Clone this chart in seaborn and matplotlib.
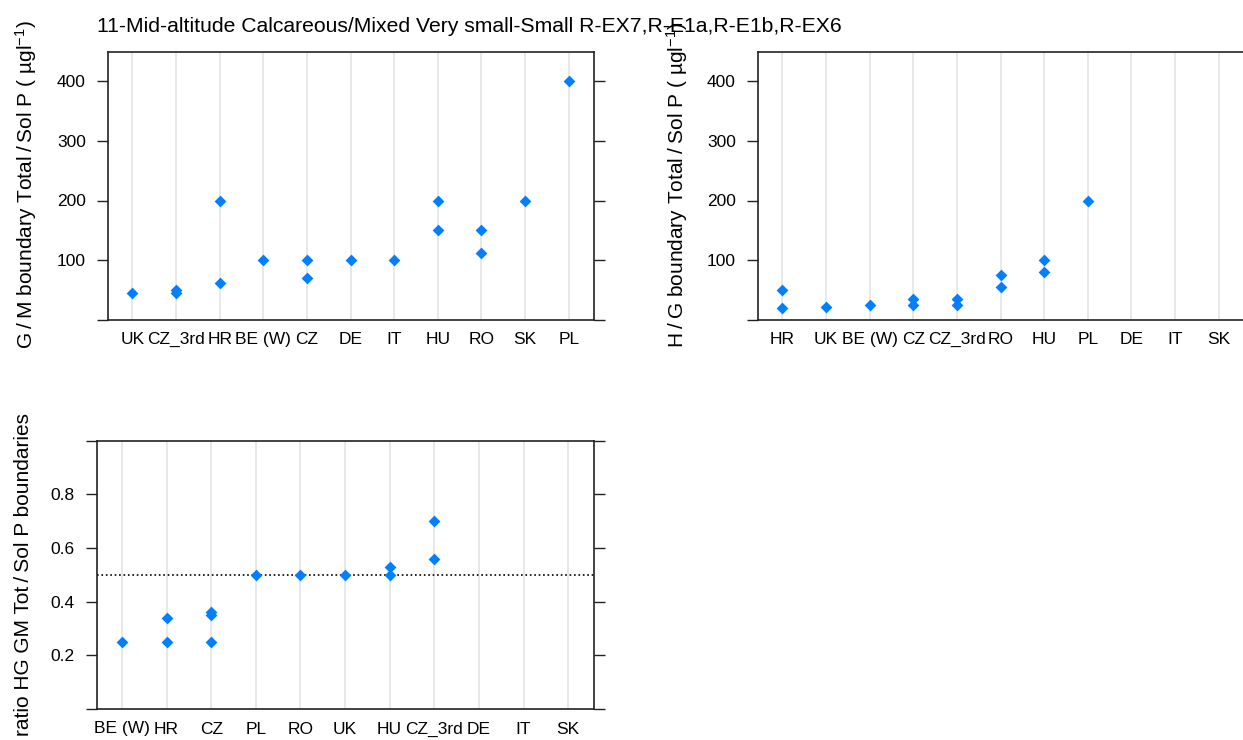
import numpy as np
import pandas as pd
import matplotlib
matplotlib.use('Agg')
import matplotlib.pyplot as plt
import seaborn as sns

# G/M boundary (total / soluble P)
gm_cat = ['UK', 'CZ_3rd', 'CZ_3rd', 'HR', 'HR', 'BE (W)', 'CZ', 'CZ', 'DE', 'IT',
          'HU', 'HU', 'RO', 'RO', 'SK', 'PL']
gm_val = [45, 50, 45, 62, 200, 100, 100, 70, 100, 100, 200, 150, 150, 112, 200, 400]
gm_order = ['UK', 'CZ_3rd', 'HR', 'BE (W)', 'CZ', 'DE', 'IT', 'HU', 'RO', 'SK', 'PL']

# H/G boundary
hg_cat = ['HR', 'HR', 'UK', 'BE (W)', 'CZ', 'CZ', 'CZ_3rd', 'CZ_3rd', 'RO', 'RO',
          'HU', 'HU', 'PL']
hg_val = [50, 20, 22, 25, 35, 25, 35, 25, 75, 55, 100, 80, 200]
hg_order = ['HR', 'UK', 'BE (W)', 'CZ', 'CZ_3rd', 'RO', 'HU', 'PL', 'DE', 'IT', 'SK']

# ratio HG / GM
ratio_cat = ['BE (W)', 'HR', 'HR', 'CZ', 'CZ', 'CZ', 'PL', 'RO', 'UK', 'HU', 'HU',
             'CZ_3rd', 'CZ_3rd']
ratio_val = [0.25, 0.34, 0.25, 0.36, 0.35, 0.25, 0.5, 0.5, 0.5, 0.53, 0.5, 0.70, 0.56]
ratio_order = ['BE (W)', 'HR', 'CZ', 'PL', 'RO', 'UK', 'HU', 'CZ_3rd', 'DE', 'IT', 'SK']

title = '11-Mid-altitude Calcareous/Mixed Very small-Small R-EX7,R-E1a,R-E1b,R-EX6'

sns.set_style('white')
plt.rcParams['font.family'] = ['Liberation Sans', 'DejaVu Sans']
plt.rcParams['mathtext.fontset'] = 'custom'
plt.rcParams['mathtext.rm'] = 'Liberation Sans'
plt.rcParams['mathtext.default'] = 'regular'
plt.rcParams['text.color'] = 'black'
plt.rcParams['xtick.labelcolor'] = 'black'
plt.rcParams['ytick.labelcolor'] = 'black'

W, H = 1243, 740
fig = plt.figure(figsize=(W / 100, H / 100), dpi=100)


def px_axes(left, top, right, bottom):
    return fig.add_axes([left / W, 1 - bottom / H, (right - left) / W, (bottom - top) / H])


def panel(ax, cats, vals, order, ylim, ticks, labels):
    df = pd.DataFrame({'cat': cats, 'val': vals})
    sns.stripplot(data=df, x='cat', y='val', order=order, jitter=False, marker='D',
                  size=6, color='#0080FF', linewidth=0, ax=ax, zorder=3)
    ax.set_axisbelow(True)
    ax.grid(axis='x', color='#E6E6E6', lw=1.3)
    ax.grid(axis='y', visible=False)
    ax.set_xlim(-0.56, len(order) - 0.42)
    ax.set_ylim(ylim)
    ax.set_yticks(ticks)
    ax.set_yticklabels(labels)
    ax.tick_params(axis='y', left=True, right=True, direction='out', length=8,
                   width=1, labelsize=12.5, pad=8, color='#222222', labelcolor='black')
    ax.tick_params(axis='x', length=0, labelsize=12.5, pad=9, labelcolor='black')
    ax.set_xlabel('')
    ax.set_ylabel('')
    for s in ax.spines.values():
        s.set_color('#222222')
        s.set_linewidth(1.2)


ax1 = px_axes(108, 51.5, 594, 319.7)
panel(ax1, gm_cat, gm_val, gm_order, (0, 450), [0, 100, 200, 300, 400],
      ['', '100', '200', '300', '400'])

ax2 = px_axes(758, 51.5, 1244, 319.7)
panel(ax2, hg_cat, hg_val, hg_order, (0, 450), [0, 100, 200, 300, 400],
      ['', '100', '200', '300', '400'])

ax3 = px_axes(97, 440.7, 594, 709)
panel(ax3, ratio_cat, ratio_val, ratio_order, (0, 1.0), [0, 0.2, 0.4, 0.6, 0.8, 1.0],
      ['', '0.2', '0.4', '0.6', '0.8', ''])
ax3.axhline(0.5, color='black', ls=':', lw=1.2, zorder=2)

fig.text(97 / W, 1 - 27 / H, title, fontsize=15.2, ha='left', va='center')

fig.text(26 / W, 1 - 185 / H, 'G\u2009/\u2009M boundary Total\u2009/\u2009Sol P ( µgl$^{-1}$)',
         rotation=90, ha='center', va='center', fontsize=15)
fig.text(677 / W, 1 - 185 / H, 'H\u2009/\u2009G boundary Total\u2009/\u2009Sol P ( µgl$^{-1}$)',
         rotation=90, ha='center', va='center', fontsize=15)
fig.text(24 / W, 1 - 575 / H, 'ratio HG GM Tot\u2009/\u2009Sol P boundaries',
         rotation=90, ha='center', va='center', fontsize=15)

fig.savefig('out.png', dpi=100)
